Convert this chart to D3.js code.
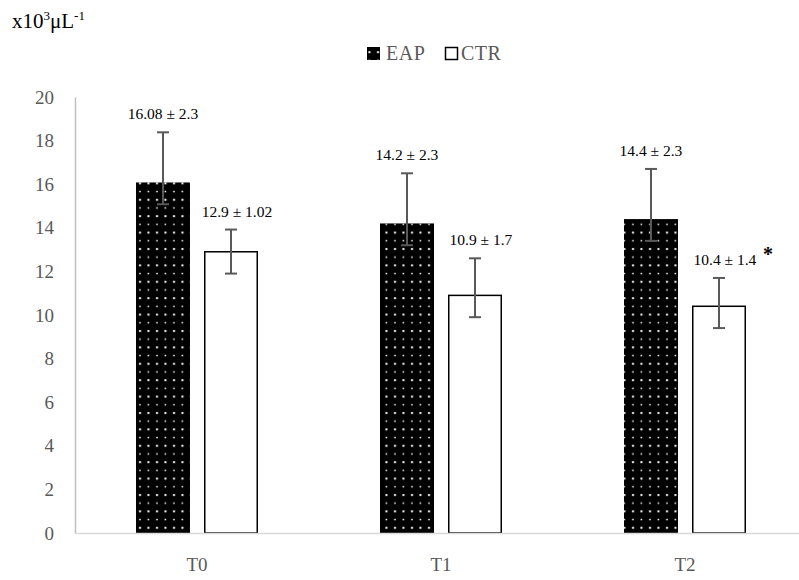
<!DOCTYPE html>
<html>
<head>
<meta charset="utf-8">
<script src="https://cdn.jsdelivr.net/npm/d3@7"></script>
<style>
  body { margin: 0; background: #fff; }
  svg { display: block; font-family: "Palatino Linotype", "Book Antiqua", Palatino, "Liberation Serif", serif; }
</style>
</head>
<body>
<svg id="chart" width="799" height="580"></svg>
<script>
// values
const categories = ["T0", "T1", "T2"];
const seriesNames = ["EAP", "CTR"];
const eapValues = [16.08, 14.2, 14.4];
const ctrValues = [12.9, 10.9, 10.4];
// error bars: upper part is the SD, lower part is a fixed 1
const eapErrUp = [2.3, 2.3, 2.3];
const ctrErrUp = [1.02, 1.7, 1.3];
const eapErrDown = [1, 1, 1];
const ctrErrDown = [1, 1, 1];
const eapLabels = ["16.08 ± 2.3", "14.2 ± 2.3", "14.4 ± 2.3"];
const ctrLabels = ["12.9 ± 1.02", "10.9 ± 1.7", "10.4 ± 1.4"];
const ctrStars = ["", "", "*"];
const yTicks = [0, 2, 4, 6, 8, 10, 12, 14, 16, 18, 20];

const rows = [];
categories.forEach((c, i) => {
  rows.push({ cat: c, series: "EAP", value: eapValues[i], up: eapErrUp[i], down: eapErrDown[i], label: eapLabels[i], star: "" });
  rows.push({ cat: c, series: "CTR", value: ctrValues[i], up: ctrErrUp[i], down: ctrErrDown[i], label: ctrLabels[i], star: ctrStars[i] });
});

const svg = d3.select("#chart");
const mLeft = 75, mRight = 807, mTop = 97, mBottom = 533;

const x0 = d3.scaleBand().domain(categories).range([mLeft, mRight]).padding(0);
const x1 = d3.scaleBand().domain(seriesNames).range([0, x0.bandwidth()])
  .paddingInner(0.206).paddingOuter(0.897);
const y = d3.scaleLinear().domain([0, 20]).range([mBottom, mTop]);

// dotted fill
const defs = svg.append("defs");
const pat = defs.append("pattern")
  .attr("id", "dots")
  .attr("patternUnits", "userSpaceOnUse")
  .attr("width", 8.5).attr("height", 16.4);
pat.append("rect").attr("width", 8.5).attr("height", 16.4).attr("fill", "#000");
pat.append("rect").attr("x", 3).attr("y", 2).attr("width", 2).attr("height", 2).attr("fill", "#fff");
pat.append("rect").attr("x", 3.2).attr("y", 10.4).attr("width", 1.5).attr("height", 1.5).attr("fill", "#fff");

// axis title
const title = svg.append("text").attr("x", 12).attr("y", 28)
  .attr("font-size", 21).attr("fill", "#000");
title.append("tspan").text("x10");
title.append("tspan").attr("font-size", 13).attr("dy", -8).text("3");
title.append("tspan").attr("dy", 8).text("μL");
title.append("tspan").attr("font-size", 13).attr("dy", -8).text("-1");

// legend
const legend = svg.append("g");
legend.append("rect").attr("x", 367).attr("y", 47).attr("width", 13).attr("height", 13).attr("fill", "url(#dots)");
legend.append("text").attr("x", 386).attr("y", 60).attr("font-size", 20).attr("letter-spacing", 0.5)
  .attr("fill", "#595959").text("EAP");
legend.append("rect").attr("x", 445.5).attr("y", 47.5).attr("width", 12).attr("height", 12)
  .attr("fill", "#fff").attr("stroke", "#000").attr("stroke-width", 1.5);
legend.append("text").attr("x", 461).attr("y", 60).attr("font-size", 20).attr("letter-spacing", 0.5)
  .attr("fill", "#595959").text("CTR");

// bars
const bars = svg.append("g");
bars.selectAll("rect").data(rows).enter().append("rect")
  .attr("x", d => x0(d.cat) + x1(d.series) + (d.series === "CTR" ? 0.75 : 0))
  .attr("y", d => y(d.value))
  .attr("width", d => x1.bandwidth() - (d.series === "CTR" ? 1.5 : 0))
  .attr("height", d => y(0) - y(d.value))
  .attr("fill", d => d.series === "EAP" ? "url(#dots)" : "#fff")
  .attr("stroke", d => d.series === "EAP" ? "none" : "#000")
  .attr("stroke-width", 1.5);

// axes
const yAxis = svg.append("g").attr("transform", `translate(${mLeft},0)`)
  .call(d3.axisLeft(y).tickValues(yTicks).tickSize(0).tickPadding(21))
  .attr("font-family", null).attr("font-size", 19);
yAxis.select(".domain").attr("stroke", "#bfbfbf").attr("stroke-width", 1.5);
yAxis.selectAll("text").attr("fill", "#595959");

const xAxis = svg.append("g").attr("transform", `translate(0,${mBottom})`)
  .call(d3.axisBottom(x0).tickSize(0).tickPadding(25))
  .attr("font-family", null).attr("font-size", 19);
xAxis.select(".domain").attr("stroke", "#d9d9d9").attr("stroke-width", 1.5);
xAxis.selectAll("text").attr("fill", "#595959");

// error bars
const err = svg.append("g").attr("stroke", "#595959").attr("stroke-width", 2);
rows.forEach(d => {
  const cx = x0(d.cat) + x1(d.series) + x1.bandwidth() / 2;
  const yt = y(d.value + d.up), yb = y(d.value - d.down);
  err.append("line").attr("x1", cx).attr("x2", cx).attr("y1", yt).attr("y2", yb);
  err.append("line").attr("x1", cx - 6).attr("x2", cx + 6).attr("y1", yt).attr("y2", yt);
  err.append("line").attr("x1", cx - 6).attr("x2", cx + 6).attr("y1", yb).attr("y2", yb);
});

// data labels
const labels = svg.append("g").attr("font-size", 15.5).attr("fill", "#000");
rows.forEach(d => {
  const cx = x0(d.cat) + x1(d.series) + x1.bandwidth() / 2 + (d.series === "CTR" ? 6 : 0);
  const yt = y(d.value + d.up);
  labels.append("text").attr("x", cx).attr("y", yt - 13)
    .attr("text-anchor", "middle").text(d.label);
  if (d.star) {
    labels.append("text").attr("x", cx + 38).attr("y", yt - 17)
      .attr("font-size", 20).attr("font-weight", "bold").text(d.star);
  }
});
</script>
</body>
</html>
